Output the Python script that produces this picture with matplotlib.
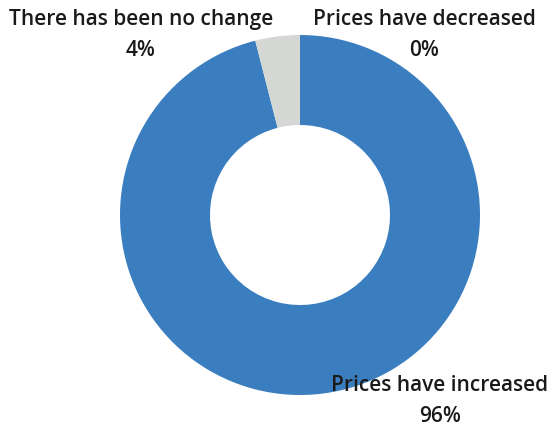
import matplotlib.pyplot as plt

labels = ['Prices have increased', 'There has been no change', 'Prices have decreased']
shares = [96, 4, 0]
colors = ['#3A7EC0', '#D4D7D3', '#E07B39']

# label anchor positions (pixel coords, origin bottom-left)
labelPos = [(440, 32), (141, 398), (424, 398)]


def main():
    fig = plt.figure(figsize=(5.6, 4.33), dpi=100)
    ax = fig.add_axes([0, 0, 1, 1])
    ax.axis('off')

    ax.pie(shares, colors=colors, startangle=90, counterclock=False,
           center=(300, 218), radius=180,
           wedgeprops=dict(width=90, linewidth=0))
    ax.set_xlim(0, 560)
    ax.set_ylim(0, 433)
    ax.set_aspect('equal')

    for label, share, (x, y) in zip(labels, shares, labelPos):
        ax.text(x, y, f'{label}\n{share}%', ha='center', va='center',
                fontsize=15, fontweight='semibold', family='Open Sans',
                color='#1a1a1a', linespacing=1.6)

    fig.savefig('out.png', dpi=100)


main()
